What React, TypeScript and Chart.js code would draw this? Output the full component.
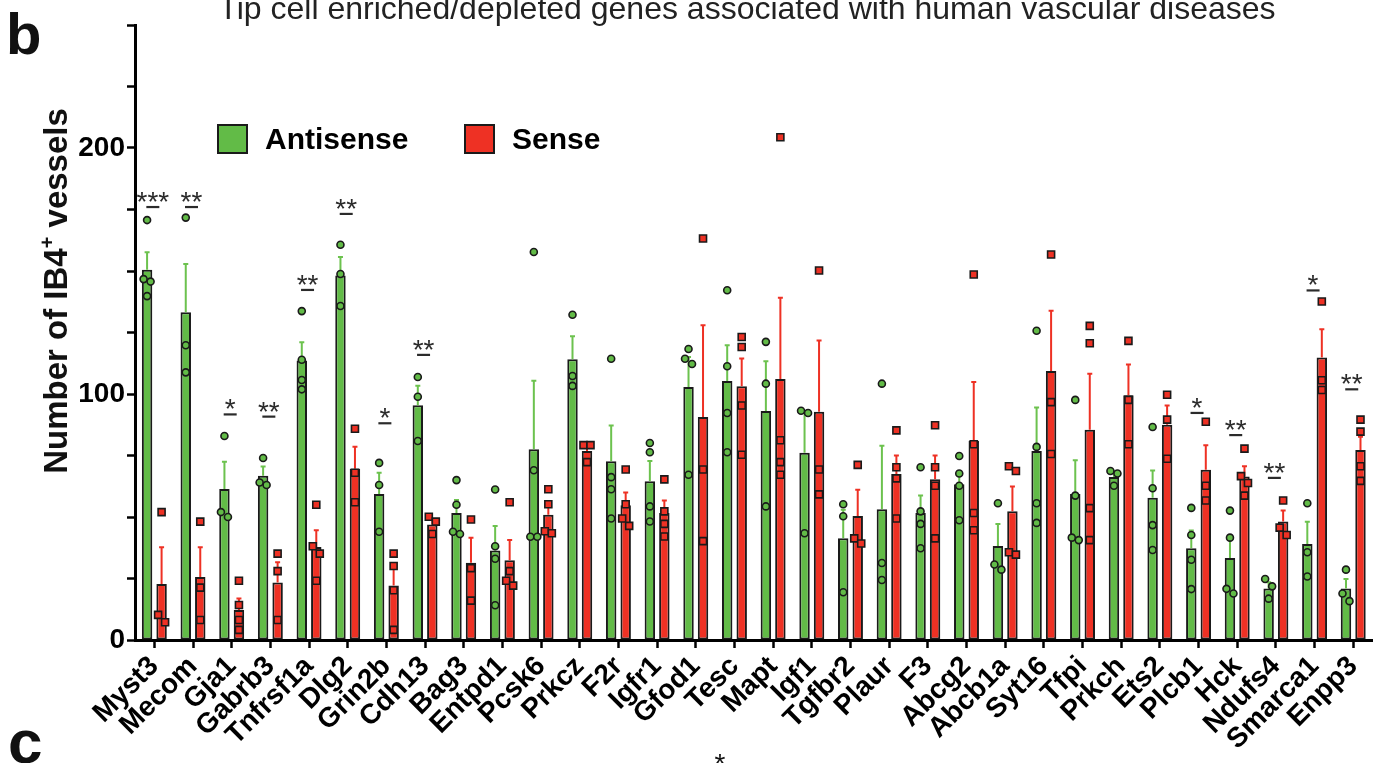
import React, { useEffect, useRef } from 'react';
import { Chart, registerables } from 'chart.js';

Chart.register(...registerables);

const FONT = "'Liberation Sans', Arial, Helvetica, sans-serif";

const genes = ['Myst3', 'Mecom', 'Gja1', 'Gabrb3', 'Tnfrsf1a', 'Dlg2', 'Grin2b', 'Cdh13', 'Bag3', 'Entpd1', 'Pcsk6', 'Prkcz', 'F2r', 'Igfr1', 'Gfod1', 'Tesc', 'Mapt', 'Igf1', 'Tgfbr2', 'Plaur', 'F3', 'Abcg2', 'Abcb1a', 'Syt16', 'Tfpi', 'Prkch', 'Ets2', 'Plcb1', 'Hck', 'Ndufs4', 'Smarca1', 'Enpp3'];

const antisenseMean = [150.5, 133.2, 61.4, 66.8, 113.6, 148.2, 59.4, 95.4, 51.6, 36.4, 77.5, 114.1, 72.7, 64.5, 102.8, 105.3, 93.1, 76.1, 41.4, 53.1, 51.6, 63.3, 38.2, 76.8, 59.4, 66.3, 57.8, 37.3, 33.3, 20.9, 39.0, 20.9];
const antisenseSem = [7.1, 19.6, 11.1, 3.7, 7.4, 7.5, 8.6, 8.0, 5.3, 9.9, 27.9, 9.4, 14.5, 8.3, 12.2, 14.5, 20.2, 16.4, 11.5, 25.9, 7.1, 5.4, 9.0, 17.7, 13.7, 2.2, 11.1, 7.2, 8.3, 2.6, 9.1, 3.9];
const senseMean = [22.8, 25.6, 12.2, 23.4, 37.8, 69.6, 22.2, 47.0, 31.4, 32.4, 50.9, 76.8, 54.8, 51.6, 90.7, 103.1, 106.1, 92.8, 50.4, 67.5, 65.3, 81.0, 52.3, 109.4, 85.5, 99.5, 87.5, 69.2, 66.5, 48.2, 114.8, 77.2];
const senseSem = [14.9, 12.1, 4.7, 8.2, 6.8, 9.0, 7.9, 2.0, 10.2, 8.3, 4.5, 2.7, 5.2, 5.1, 37.2, 11.3, 33.0, 28.9, 10.7, 7.5, 9.7, 23.9, 10.1, 24.4, 22.7, 12.5, 7.8, 10.0, 4.1, 4.4, 11.5, 5.4];

const antisensePoints = [
  [170.7, 146.7, 145.7, 139.8], [171.7, 119.8, 108.8], [82.9, 52, 50], [74, 64, 63],
  [133.7, 113.9, 105.7, 101.9], [160.7, 148.8, 135.8], [72, 63, 44], [106.9, 98.9, 80.9],
  [65, 55, 44, 43.1], [61.2, 38.1, 33, 14.1], [157.7, 69, 42, 42], [132.2, 107.3, 103.3],
  [114.3, 66.2, 61.3, 49.4], [80.1, 76.3, 54.3, 48.2], [118.3, 114.3, 112.2, 67.2], [142.2, 111.3, 92.3, 76.3],
  [121.2, 104.2, 54.3], [93.2, 92.3, 43.4], [55.2, 50.3, 19.4], [104.2, 31.3, 24.4],
  [70.2, 52.3, 47.2, 37.3], [74.8, 67.7, 62.7, 48.7], [55.6, 30.7, 28.6], [125.7, 78.5, 55.6, 47.6],
  [97.6, 58.7, 41.6, 40.6], [68.7, 67.7, 62.7], [86.6, 61.7, 46.7, 36.6], [53.7, 42.7, 32.6, 20.7],
  [52.6, 41.6, 20.8, 18.9], [24.8, 21.8, 16.8], [55.6, 35.7, 25.8], [28.6, 18.9, 15.8],
];
const sensePoints = [
  [52, 10.2, 7.2], [48.1, 21.3, 8.1], [24.1, 14.2, 8.1, 4.1], [35.1, 28, 8.1],
  [55, 38.1, 35.1, 24.1], [85.9, 68, 56], [35.1, 30.1, 20.2, 4.1], [50.1, 48.1, 43.1],
  [49, 29.2, 16], [56, 28, 24.1, 22.1], [61.3, 55.2, 44.2, 43.4], [79.2, 79.2, 72.3],
  [69.3, 55.2, 49.4, 46.4], [65.3, 52.3, 47.2, 42.1], [163.2, 69.3, 40.2], [123.2, 119.1, 95.3, 75.3],
  [204.4, 81.2, 72.3, 67.2], [150.2, 69.3, 59.2], [71.2, 41.3, 39.2], [85.2, 70.2, 65.7, 49.4],
  [87.3, 70.2, 62.7, 41.3], [148.6, 79.6, 51.6, 44.6], [70.6, 68.7, 35.7, 34.7], [156.7, 96.7, 75.6],
  [127.7, 120.6, 53.6, 40.6], [121.6, 97.6, 79.6], [99.7, 89.6, 73.7], [88.7, 62.7, 56.7],
  [77.8, 66.6, 63.8, 58.7], [56.7, 45.7, 42.7], [137.6, 105.6, 101.6], [89.6, 84.7, 70.6, 64.7],
];

const sigLabels = ['***', '**', '*', '**', '**', '**', '*', '**', '', '', '', '', '', '', '', '', '', '', '', '', '', '', '', '', '', '', '', '*', '**', '**', '*', '**'];
const sigLevels = [176, 176, 91.7, 90.8, 142.3, 173.2, 88.1, 115.9, 0, 0, 0, 0, 0, 0, 0, 0, 0, 0, 0, 0, 0, 0, 0, 0, 0, 0, 0, 92.3, 83.3, 65.9, 142.1, 101.9];

const yMin = 0;
const yMax = 250;
const yStep = 25;
const yLabeled = [0, 100, 200];

const seriesNames = ['Antisense', 'Sense'];
const titleText = 'Tip cell enriched/depleted genes associated with human vascular diseases';

const GREEN = '#62bb47';
const RED = '#ee3124';
const GREEN_ERR = '#6cc24e';
const RED_ERR = '#ee3124';
const EDGE = '#1a1a1a';

function jitter(vals: number[], thr: number, gap: number): number[] {
  const idx = vals.map((_, i) => i).sort((a, b) => vals[b] - vals[a]);
  const off = new Array(vals.length).fill(0);
  let cluster: number[] = [];
  const flush = () => {
    const n = cluster.length;
    cluster.forEach((k, j) => { off[k] = (j - (n - 1) / 2) * gap; });
    cluster = [];
  };
  idx.forEach((k) => {
    if (cluster.length && vals[cluster[cluster.length - 1]] - vals[k] > thr) flush();
    cluster.push(k);
  });
  flush();
  return off;
}

const overlayPlugin = {
  id: 'overlay',
  afterDatasetsDraw(chart: any) {
    const ctx = chart.ctx;
    const ys = chart.scales.y;
    const xs = chart.scales.x;
    const series = [
      { mean: antisenseMean, sem: antisenseSem, pts: antisensePoints, fill: GREEN, err: GREEN_ERR, shape: 'circle' },
      { mean: senseMean, sem: senseSem, pts: sensePoints, fill: RED, err: RED_ERR, shape: 'square' },
    ];
    ctx.save();
    series.forEach((s, di) => {
      const meta = chart.getDatasetMeta(di);
      meta.data.forEach((bar: any, i: number) => {
        const bx = bar.x;
        const y0 = ys.getPixelForValue(s.mean[i]);
        const y1 = ys.getPixelForValue(s.mean[i] + s.sem[i]);
        ctx.strokeStyle = s.err;
        ctx.lineWidth = 2;
        ctx.beginPath();
        ctx.moveTo(bx, y0);
        ctx.lineTo(bx, y1);
        ctx.moveTo(bx - 2.5, y1);
        ctx.lineTo(bx + 2.5, y1);
        ctx.stroke();
      });
    });
    series.forEach((s, di) => {
      const meta = chart.getDatasetMeta(di);
      meta.data.forEach((bar: any, i: number) => {
        const vals = s.pts[i];
        const offs = jitter(vals, 3.3, 7);
        vals.forEach((v, k) => {
          const px = bar.x + offs[k];
          const py = ys.getPixelForValue(v);
          ctx.fillStyle = s.fill;
          ctx.strokeStyle = EDGE;
          ctx.lineWidth = 1.6;
          ctx.beginPath();
          if (s.shape === 'circle') {
            ctx.arc(px, py, 3.5, 0, Math.PI * 2);
          } else {
            ctx.rect(px - 3.5, py - 3.5, 7, 7);
          }
          ctx.fill();
          ctx.stroke();
        });
      });
    });
    sigLabels.forEach((lab, i) => {
      if (!lab) return;
      const cx = xs.getPixelForValue(i) - 1.5;
      const ly = ys.getPixelForValue(sigLevels[i]);
      ctx.strokeStyle = '#2b2b2b';
      ctx.lineWidth = 2.2;
      ctx.beginPath();
      ctx.moveTo(cx - 6.5, ly);
      ctx.lineTo(cx + 6.5, ly);
      ctx.stroke();
      ctx.fillStyle = '#2b2b2b';
      ctx.font = `28px ${FONT}`;
      ctx.textAlign = 'center';
      ctx.textBaseline = 'alphabetic';
      ctx.fillText(lab, cx, ly + 4);
    });
    ctx.restore();
  },
  afterDraw(chart: any) {
    const ctx = chart.ctx;
    ctx.save();
    ctx.fillStyle = '#222';
    ctx.font = `32px ${FONT}`;
    ctx.textAlign = 'center';
    ctx.textBaseline = 'alphabetic';
    ctx.fillText(titleText, 747, 19);
    ctx.fillStyle = '#111';
    ctx.textAlign = 'left';
    ctx.font = `bold 58px ${FONT}`;
    ctx.fillText('b', 6, 54);
    ctx.font = `bold 62px ${FONT}`;
    ctx.fillText('c', 8, 763);
    ctx.font = `28px ${FONT}`;
    ctx.textAlign = 'center';
    ctx.fillText('*', 720, 773);
    ctx.save();
    ctx.translate(0, 291);
    ctx.rotate(-Math.PI / 2);
    ctx.fillStyle = '#111';
    const p1 = 'Number of IB4';
    const p2 = '+';
    const p3 = ' vessels';
    const big = `bold 33px ${FONT}`;
    const small = `bold 20px ${FONT}`;
    ctx.font = big;
    const w1 = ctx.measureText(p1).width;
    const w3 = ctx.measureText(p3).width;
    ctx.font = small;
    const w2 = ctx.measureText(p2).width;
    const total = w1 + w2 + w3;
    let u = -total / 2;
    const base = 67;
    ctx.textAlign = 'left';
    ctx.font = big;
    ctx.fillText(p1, u, base);
    u += w1;
    ctx.font = small;
    ctx.fillText(p2, u, base - 13);
    u += w2;
    ctx.font = big;
    ctx.fillText(p3, u, base);
    ctx.restore();
    const items = [
      { label: seriesNames[0], color: GREEN, bx: 218, tx: 265 },
      { label: seriesNames[1], color: RED, bx: 465, tx: 512 },
    ];
    items.forEach((it) => {
      ctx.fillStyle = it.color;
      ctx.strokeStyle = EDGE;
      ctx.lineWidth = 2;
      ctx.fillRect(it.bx, 125, 29, 28);
      ctx.strokeRect(it.bx, 125, 29, 28);
      ctx.fillStyle = '#000';
      ctx.font = `bold 30px ${FONT}`;
      ctx.textAlign = 'left';
      ctx.textBaseline = 'alphabetic';
      ctx.fillText(it.label, it.tx, 149);
    });
    ctx.restore();
  },
};

export default function App() {
  const ref = useRef<HTMLCanvasElement>(null);
  useEffect(() => {
    if (!ref.current) return;
    const chart = new Chart(ref.current, {
      type: 'bar',
      data: {
        labels: genes,
        datasets: [
          {
            label: seriesNames[0],
            data: antisenseMean,
            backgroundColor: GREEN,
            borderColor: EDGE,
            borderWidth: 2,
            borderSkipped: false,
            categoryPercentage: 0.75,
            barPercentage: 0.72,
          },
          {
            label: seriesNames[1],
            data: senseMean,
            backgroundColor: RED,
            borderColor: EDGE,
            borderWidth: 2,
            borderSkipped: false,
            categoryPercentage: 0.75,
            barPercentage: 0.72,
          },
        ],
      },
      options: {
        animation: false,
        responsive: false,
        devicePixelRatio: 1,
        layout: { padding: { top: 25, right: 0, left: 0, bottom: 0 } },
        plugins: {
          legend: { display: false },
          tooltip: { enabled: false },
          title: { display: false },
        },
        scales: {
          x: {
            type: 'category',
            offset: true,
            grid: {
              offset: false,
              drawOnChartArea: false,
              drawTicks: true,
              tickLength: 8,
              tickWidth: 2.5,
              tickColor: '#000',
              color: '#000',
            },
            border: { display: true, color: '#000', width: 3 },
            ticks: {
              autoSkip: false,
              maxRotation: 45,
              minRotation: 45,
              padding: 2,
              color: '#000',
              font: { family: FONT, size: 28, weight: 'bold' },
            },
            afterFit: (s: any) => { s.height = 123; },
          },
          y: {
            min: yMin,
            max: yMax,
            grid: {
              drawOnChartArea: false,
              drawTicks: true,
              tickLength: 8,
              tickWidth: 2.5,
              tickColor: '#000',
              color: '#000',
            },
            border: { display: true, color: '#000', width: 3 },
            ticks: {
              stepSize: yStep,
              autoSkip: false,
              padding: 2,
              color: '#000',
              font: { family: FONT, size: 28, weight: 'bold' },
              callback: (v: any) => (yLabeled.includes(Number(v)) ? String(v) : ''),
            },
            afterFit: (s: any) => { s.width = 135; },
          },
        },
      },
      plugins: [overlayPlugin],
    } as any);
    return () => chart.destroy();
  }, []);
  return (
    <div style={{ position: 'absolute', left: 0, top: 0, width: 1379, height: 763, background: '#fff' }}>
      <canvas ref={ref} width={1379} height={763} style={{ display: 'block', width: 1379, height: 763 }} />
    </div>
  );
}
